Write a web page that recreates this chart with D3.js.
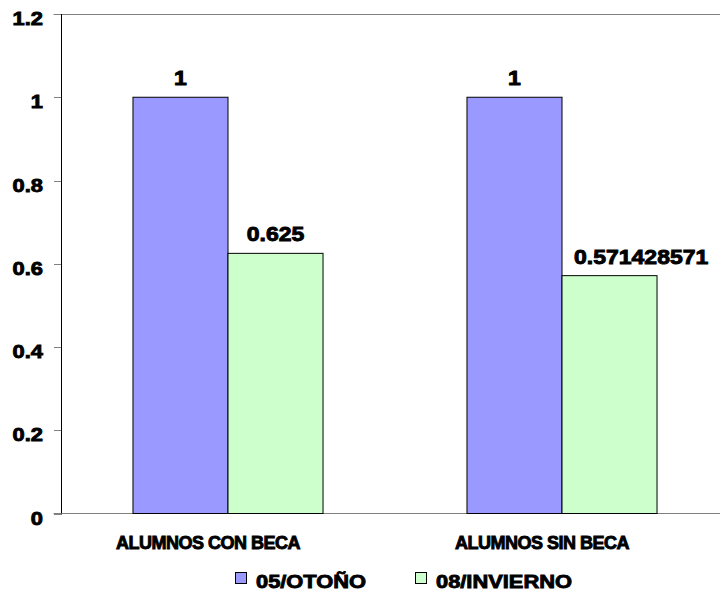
<!DOCTYPE html>
<html><head><meta charset="utf-8">
<script src="https://cdn.jsdelivr.net/npm/d3@7"></script>
<style>body{margin:0;background:#fff}svg{display:block}text{font-family:"Liberation Sans",Arial,sans-serif;font-weight:bold;fill:#000;stroke:#000;stroke-width:0.9px}</style>
</head><body>
<script>
const categories = ["ALUMNOS CON BECA", "ALUMNOS SIN BECA"];
const seriesNames = ["05/OTOÑO", "08/INVIERNO"];
const seriesColors = ["#9999FF", "#CCFFCC"];
const values05 = [1, 1];
const values08 = [0.625, 0.571428571];
const valueLabels05 = ["1", "1"];
const valueLabels08 = ["0.625", "0.571428571"];
const yTicks = [0, 0.2, 0.4, 0.6, 0.8, 1, 1.2];
const yTickLabels = ["0", "0.2", "0.4", "0.6", "0.8", "1", "1.2"];

const W = 720, H = 596;
const svg = d3.select("body").append("svg").attr("width", W).attr("height", H);
const pLeft = 61.5, pRight = 728.5, pTop = 14, pBottom = 513.5;
const SX = 1.15;

const x0 = d3.scaleBand().domain(categories).range([pLeft, pRight]).paddingInner(0.431).paddingOuter(0.214);
const x1 = d3.scaleBand().domain(seriesNames).range([0, x0.bandwidth()]);
const y = d3.scaleLinear().domain([0, 1.2]).range([pBottom, pTop]);

// plot border (gray)
svg.append("line").attr("x1", pLeft - 8).attr("x2", W).attr("y1", pTop + 0.5).attr("y2", pTop + 0.5).attr("stroke", "#808080");
svg.append("line").attr("x1", pLeft - 8).attr("x2", W).attr("y1", pBottom).attr("y2", pBottom).attr("stroke", "#808080");

// y axis
const yAxis = d3.axisLeft(y).tickValues(yTicks).tickSize(8).tickFormat(() => "");
const ga = svg.append("g").attr("transform", `translate(${pLeft},0)`).call(yAxis);
ga.select(".domain").remove();
ga.selectAll(".tick line").attr("stroke", "#808080").attr("shape-rendering", "crispEdges");
svg.append("line").attr("x1", pLeft).attr("x2", pLeft).attr("y1", pTop).attr("y2", pBottom).attr("stroke", "#000");

yTicks.forEach((t, i) => {
  svg.append("text").attr("transform", `translate(43,${y(t) + 11}) scale(${SX},1)`)
    .attr("text-anchor", "end").style("font-size", "19px").text(yTickLabels[i]);
});

// bars
const series = [values05, values08];
const labels = [valueLabels05, valueLabels08];
categories.forEach((c, ci) => {
  series.forEach((vals, si) => {
    const bx = x0(c) + x1(seriesNames[si]);
    const bw = x1.bandwidth();
    svg.append("rect").attr("x", bx).attr("y", y(vals[ci])).attr("width", bw).attr("height", pBottom - y(vals[ci]))
      .attr("fill", seriesColors[si]).attr("stroke", "#000").attr("stroke-width", 1);
    const t = svg.append("text").style("font-size", "20px").text(labels[si][ci]);
    const tw = t.node().getComputedTextLength() * SX;
    let cx = bx + bw / 2;
    if (tw > bw) cx = bx + 12 + tw / 2;
    t.attr("text-anchor", "middle").attr("transform", `translate(${cx},${y(vals[ci]) - 12}) scale(${SX},1)`);
  });
  svg.append("text").attr("x", x0(c) + x0.bandwidth() / 2 - 20).attr("y", 549)
    .attr("text-anchor", "middle").style("font-size", "18px").style("letter-spacing", "-0.5px").text(c);
});

// legend
const legX = [235, 415];
seriesNames.forEach((n, i) => {
  svg.append("rect").attr("x", legX[i] + 0.5).attr("y", 572.5).attr("width", 11).attr("height", 11)
    .attr("fill", seriesColors[i]).attr("stroke", "#000").attr("stroke-width", 1);
  svg.append("text").attr("transform", `translate(${legX[i] + 21},588) scale(${SX},1)`)
    .style("font-size", "19px").text(n);
});
</script>
</body></html>
